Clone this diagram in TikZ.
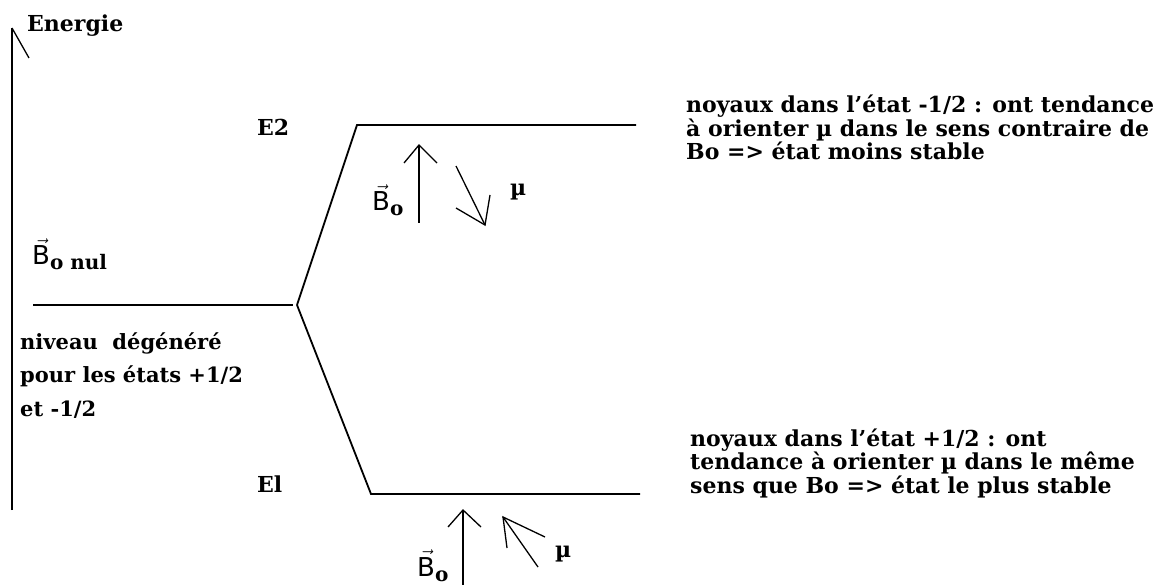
\documentclass[tikz,border=0pt]{standalone}
\usepackage{fontspec}
\setmainfont{DejaVu Serif}
\newfontfamily\bsans{DejaVu Sans}
\begin{document}
\begin{tikzpicture}[x=1pt,y=-1pt,
  lvl/.style={line width=1.8pt},
  thinl/.style={line width=1.3pt},
  txt/.style={font=\bfseries\fontsize{22}{23.5}\selectfont, align=left, inner sep=0pt, anchor=base west},
  ltxt/.style={font=\bfseries\fontsize{21}{33.5}\selectfont, align=left, inner sep=0pt, anchor=base west},
  lab/.style={font=\bfseries\fontsize{22}{22}\selectfont, inner sep=0pt, anchor=base west},
]
\newcommand{\Bvec}{{\bsans\fontsize{26}{26}\selectfont$\vec{\mbox{B}}$}}
\newcommand{\osub}{{\bfseries\fontsize{20}{20}\selectfont\raisebox{-5pt}{o}}}
\useasboundingbox (0,0) rectangle (1174,585);
% energy axis
\coordinate (ax0) at (12,510);
\coordinate (ax1) at (12,28);
\coordinate (axh) at (29,58);
\draw[lvl] (ax0) -- (ax1);
\draw[thinl] (ax1) -- (axh);
\node[lab] (energie) at (27,32) {Energie};
% levels
\coordinate (L0a) at (33,305);
\coordinate (L0b) at (293,305);
\coordinate (J) at (297,305);
\coordinate (U0) at (357,125);
\coordinate (U1) at (636,125);
\coordinate (D0) at (371,494);
\coordinate (D1) at (640,494);
\draw[lvl] (L0a) -- (L0b);
\draw[lvl] (J) -- (U0) -- (U1);
\draw[lvl] (J) -- (D0) -- (D1);
\node[lab] (E2) at (257,136) {E2};
\node[lab] (E1) at (257,492) {El};
% upper arrows
\coordinate (b1s) at (419,223);
\coordinate (b1t) at (419,145);
\coordinate (b1l) at (404,163);
\coordinate (b1r) at (437,163);
\draw[thinl] (b1s) -- (b1t);
\draw[thinl] (b1l) -- (b1t) -- (b1r);
\coordinate (m1s) at (456,166);
\coordinate (m1t) at (485,225);
\coordinate (m1a) at (490,195);
\coordinate (m1b) at (456,208);
\draw[thinl] (m1s) -- (m1t);
\draw[thinl] (m1a) -- (m1t) -- (m1b);
\node[inner sep=0pt,anchor=base west] (B1) at (372,211) {\Bvec\osub};
\node[lab] (mu1) at (510,196) {µ};
% lower arrows
\coordinate (b2s) at (463,585);
\coordinate (b2t) at (463,510);
\coordinate (b2l) at (448,527);
\coordinate (b2r) at (481,527);
\draw[thinl] (b2s) -- (b2t);
\draw[thinl] (b2l) -- (b2t) -- (b2r);
\coordinate (m2s) at (538,567);
\coordinate (m2t) at (503,517);
\coordinate (m2a) at (507,548);
\coordinate (m2b) at (545,537);
\draw[thinl] (m2s) -- (m2t);
\draw[thinl] (m2a) -- (m2t) -- (m2b);
\node[inner sep=0pt,anchor=base west] (B2) at (417,576) {\Bvec\osub};
\node[lab] (mu2) at (555,557) {µ};
% B0 nul
\node[inner sep=0pt,anchor=base west] (B0) at (32,265) {\Bvec{\bfseries\fontsize{20}{20}\selectfont\raisebox{-5pt}{o nul}}};
% left text
\node[ltxt] (deg) at (20,416) {niveau\ \ dégénéré\\pour les états +1/2\\et -1/2};
% right texts
\node[txt] (top) at (686,160) {noyaux dans l'état -1/2 : ont tendance\\à orienter µ dans le sens contraire de\\Bo => état moins stable};
\node[txt] (bot) at (690,493) {noyaux dans l'état +1/2 : ont\\tendance à orienter µ dans le même\\sens que Bo => état le plus stable};
\end{tikzpicture}
\end{document}
